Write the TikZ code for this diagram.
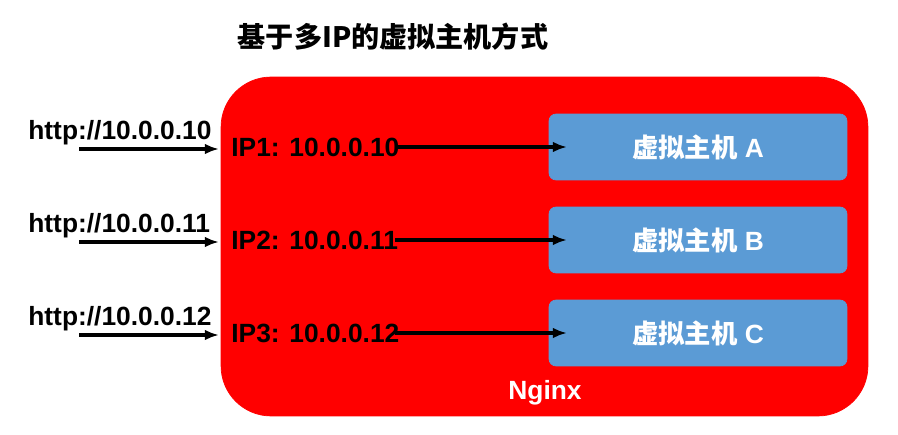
\documentclass[tikz,border=0pt]{standalone}
\usepackage{fontspec}
\setmainfont{Liberation Sans}
\newfontfamily\cjk{Noto Sans CJK SC}
\usetikzlibrary{arrows.meta,positioning}
\definecolor{nginxred}{RGB}{255,0,0}
\definecolor{hostblue}{RGB}{91,155,213}
\begin{document}
\begin{tikzpicture}[x=0.02cm,y=-0.02cm,
    hostbox/.style={draw=hostblue, fill=hostblue, rounded corners=4pt, minimum width=5.96cm, minimum height=1.32cm, text=white, font=\fontsize{15}{18}\selectfont\bfseries},
    iplabel/.style={anchor=west, font=\fontsize{15}{18}\selectfont\bfseries, inner sep=0pt},
    url/.style={anchor=west, font=\fontsize{15}{18}\selectfont\bfseries, inner sep=0pt},
    arr/.style={-{Latex[length=8pt,width=6pt]}, line width=1.8pt}
]
    \useasboundingbox (0,0) rectangle (898,435);
    % title
    \node[font=\cjk\fontsize{16}{19}\selectfont\bfseries] (title) at (393,37) {基于多IP的虚拟主机方式};
    % nginx box
    \node[draw=nginxred, fill=nginxred, rounded corners=1cm, minimum width=12.94cm, minimum height=6.78cm] (nginx) at (544.5,246.5) {};
    \node[text=white, font=\fontsize{15}{18}\selectfont\bfseries] (nlabel) at (545,393) {Nginx};
    % hosts
    \foreach \i/\y/\h/\n in {1/147/A/10, 2/240/B/11, 3/333/C/12} {
        \node[hostbox] (host\i) at (698,\y) {{\cjk\bfseries 虚拟主机} \h};
        \node[iplabel] (ip\i) at (231,\y) {IP\i: 10.0.0.\n};
        \coordinate (in\i) at (395,\y);
        \draw[arr] (in\i) -- (host\i.west -| 567,0);
        \node[url] (url\i) at (28,\y-14) {http://10.0.0.\n};
        \coordinate (src\i) at (79,\y+2);
        \coordinate (dst\i) at (219,\y+2);
        \draw[arr] (src\i) -- (dst\i);
    }
\end{tikzpicture}
\end{document}
